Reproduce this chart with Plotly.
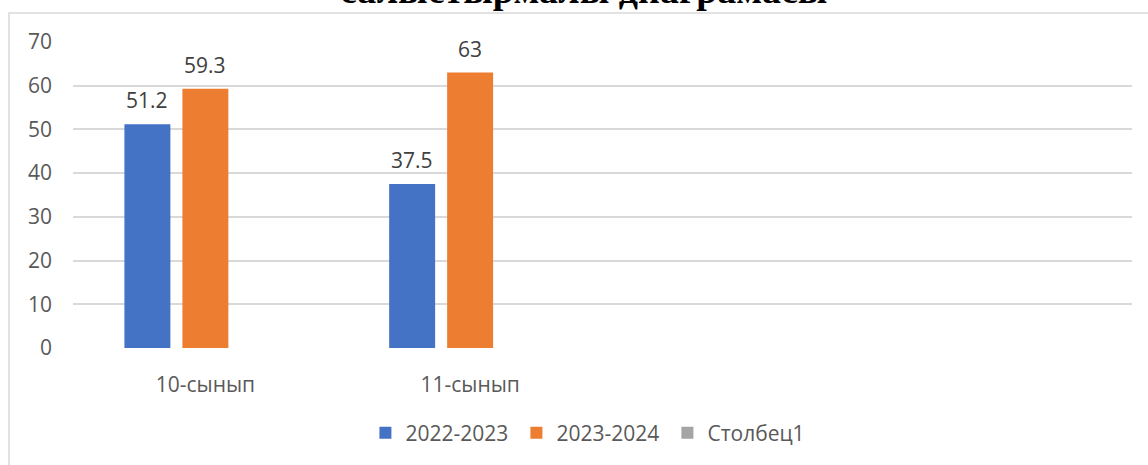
import plotly.graph_objects as go

categories = ["10-сынып", "11-сынып"]
series_names = ["2022-2023", "2023-2024", "Столбец1"]
values_2022 = [51.2, 37.5]
values_2023 = [59.3, 63]
values_col1 = [None, None]
y_ticks = [0, 10, 20, 30, 40, 50, 60, 70]
title_text = "салыстырмалы диаграмасы"

colors = ["#4472C4", "#ED7D31", "#A5A5A5"]
all_values = [values_2022, values_2023, values_col1]

FONT = "Open Sans"
fig = go.Figure()
for name, vals, col in zip(series_names, all_values, colors):
    fig.add_trace(go.Bar(x=categories, y=vals, name=name, marker=dict(color=col, line=dict(width=0))))

# data labels above bars
slot = 58
for j, vals in enumerate(all_values):
    for cat, v in zip(categories, vals):
        if v is None:
            continue
        fig.add_annotation(x=cat, y=v, xref="x", yref="y", text=f"{v:g}", showarrow=False,
                           xshift=(j - 1) * slot, yanchor="bottom", yshift=8,
                           font=dict(family=FONT, size=21, color="#404040"))

fig.add_annotation(x=0.4825, y=1.098, xref="paper", yref="paper", text=f"<b>{title_text}</b>",
                   showarrow=False, yanchor="bottom", borderpad=0,
                   font=dict(family="Liberation Serif", size=38, color="#000000"))

fig.add_shape(type="rect", xref="paper", yref="paper", x0=-0.0604, x1=1.2, y0=-0.6, y1=1.0948,
              line=dict(color="#d9d9d9", width=1.5), fillcolor="rgba(0,0,0,0)", layer="below")

fig.update_layout(
    width=1148, height=465,
    margin=dict(l=73, r=16, t=42, b=117),
    paper_bgcolor="white", plot_bgcolor="white",
    barmode="group", bargap=0.343, bargroupgap=0.207,
    font=dict(family=FONT, size=21, color="#595959"),
    showlegend=True,
    legend=dict(orientation="h", x=0.49, xanchor="center", y=-0.278, yanchor="middle",
                font=dict(family=FONT, size=21, color="#595959"),
                entrywidth=106, entrywidthmode="pixels", itemwidth=30, traceorder="normal"),
    xaxis=dict(type="category", range=[-0.5, 3.5], categoryarray=categories, categoryorder="array",
               showgrid=False, zeroline=False, showline=False, ticks="",
               ticklabelstandoff=22, tickfont=dict(family=FONT, size=21, color="#595959")),
    yaxis=dict(range=[0, 70], tickvals=y_ticks, showgrid=True, gridcolor="#d9d9d9", gridwidth=1.5,
               zeroline=False, showline=False, ticks="", ticklabelstandoff=20,
               tickfont=dict(family=FONT, size=21, color="#595959")),
)

fig.write_html("out.html", config={"displayModeBar": False},
               post_script="document.body.style.margin='0';document.body.style.overflow='hidden';")
